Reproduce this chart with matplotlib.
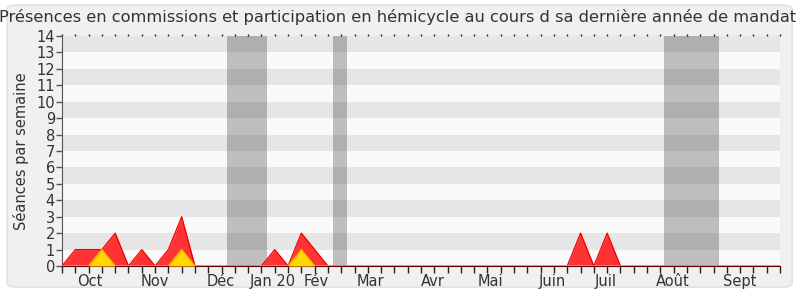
import matplotlib
matplotlib.use("Agg")
import matplotlib.pyplot as plt
from matplotlib.patches import FancyBboxPatch

# Weekly sessions over the last year of the mandate (week index 0..54)
weeks = list(range(55))
presence_commissions = [0, 1, 1, 1, 2, 0, 1, 0, 1, 3, 0, 0, 0, 0, 0, 0, 1, 0, 2, 1,
                        0, 0, 0, 0, 0, 0, 0, 0, 0, 0, 0, 0, 0, 0, 0, 0, 0, 0, 0, 2,
                        0, 2, 0, 0, 0, 0, 0, 0, 0, 0, 0, 0, 0, 0, 0]
presence_hemicycle = [0, 0, 0, 1, 0, 0, 0, 0, 0, 1, 0, 0, 0, 0, 0, 0, 0, 0, 1, 0,
                      0, 0, 0, 0, 0, 0, 0, 0, 0, 0, 0, 0, 0, 0, 0, 0, 0, 0, 0, 0,
                      0, 0, 0, 0, 0, 0, 0, 0, 0, 0, 0, 0, 0, 0, 0]

# Parliamentary recess periods (in weeks)
holidays = [(12.4, 15.45), (20.35, 21.45), (45.3, 49.4)]

month_labels = ["Oct", "Nov", "Déc", "Jan 20", "Fév", "Mar", "Avr", "Mai",
                "Juin", "Juil", "Août", "Sept"]
month_positions = [2.09, 6.97, 11.93, 15.85, 19.12, 23.18, 27.9, 32.2,
                   36.9, 40.9, 45.96, 51.0]

title = ("Présences en commissions et participation en hémicycle "
         "au cours d sa dernière année de mandat")

fig = plt.figure(figsize=(8, 3), dpi=100)
fig.patch.set_facecolor("white")
frame = FancyBboxPatch((0.009, 0.043), 0.981, 0.94, boxstyle="round,pad=0.0,rounding_size=0.012",
                       transform=fig.transFigure, facecolor="#f0f0f0",
                       edgecolor="#e2e2e2", linewidth=1.2, zorder=-10)
fig.patches.append(frame)

ax = fig.add_axes([0.0775, 0.1133, 0.8975, 0.7667])
ax.set_zorder(1)
ax.set_facecolor("#fafafa")

# alternating horizontal bands
for y in range(1, 14, 2):
    ax.axhspan(y, y + 1, color="#e6e6e6", lw=0, zorder=0)

for start, end in holidays:
    ax.axvspan(start, end, color="black", alpha=0.24, lw=0, zorder=1)

ax.fill_between(weeks, presence_commissions, color="#ff3333", lw=0, zorder=2)
ax.plot(weeks, presence_commissions, color="#ee0000", lw=0.9, zorder=3)
ax.fill_between(weeks, presence_hemicycle, color="#ffd700", lw=0, zorder=4)
ax.plot(weeks, presence_hemicycle, color="#f0c000", lw=0.9, zorder=5)

ax.set_xlim(0, 54)
ax.set_ylim(0, 14)

ax.set_yticks(range(15))
ax.set_yticklabels([str(v) for v in range(15)], fontsize=10.5, color="#333333")
ax.tick_params(axis="y", length=4, width=1, color="#555555", pad=1)

ax.xaxis.remove_overlapping_locs = False
ax.set_xticks(weeks)
ax.set_xticklabels([])
ax.tick_params(axis="x", length=5, width=1, color="#222222")
ax.set_xticks(month_positions, minor=True)
ax.set_xticklabels(month_labels, minor=True, fontsize=10.5, color="#333333")
ax.tick_params(axis="x", which="minor", length=0, pad=6)

top = ax.secondary_xaxis("top")
top.set_xticks(weeks)
top.set_xticklabels([])
top.tick_params(length=1.5, width=1, color="#222222")
top.spines["top"].set_visible(False)

for side in ("top", "right"):
    ax.spines[side].set_visible(False)
ax.spines["left"].set_color("#555555")
ax.spines["bottom"].set_color("#660000")

ax.set_ylabel("Séances par semaine", fontsize=10.5, color="#333333", labelpad=5)
fig.text(0.497, 0.943, title, ha="center", va="center", fontsize=11.7, color="#333333")

fig.savefig("out.png", dpi=100)
